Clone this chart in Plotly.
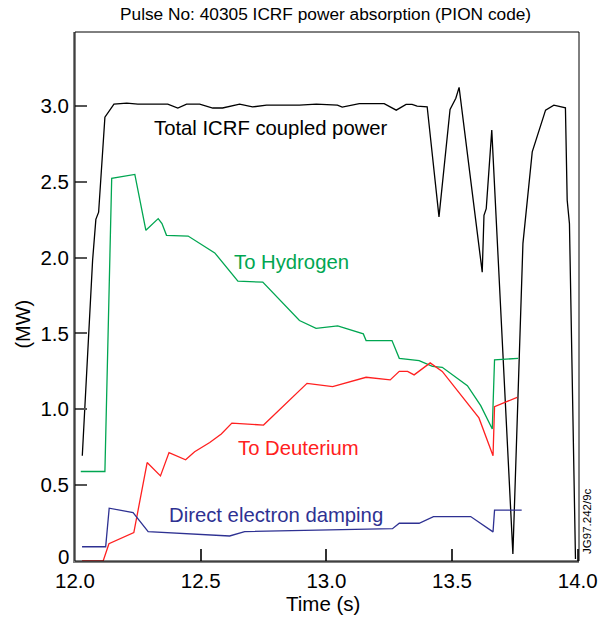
import plotly.graph_objects as go

# Total ICRF coupled power
t_total = [12.029, 12.070, 12.083, 12.094, 12.119, 12.155, 12.206, 12.250, 12.369, 12.409,
           12.444, 12.496, 12.548, 12.587, 12.655, 12.706, 12.762, 12.893, 12.960, 13.044,
           13.063, 13.131, 13.230, 13.278, 13.317, 13.341, 13.361, 13.401, 13.448, 13.492,
           13.515, 13.528, 13.620, 13.627, 13.636, 13.658, 13.742, 13.782, 13.819, 13.872,
           13.905, 13.951, 13.958, 13.967, 13.991]
p_total = [0.694, 1.982, 2.252, 2.299, 2.926, 3.012, 3.018, 3.012, 3.012, 2.986,
           3.012, 3.012, 2.986, 2.986, 3.012, 2.993, 3.005, 3.005, 3.012, 3.005,
           2.992, 3.015, 3.015, 2.972, 3.010, 3.010, 2.999, 2.994, 2.268, 2.977,
           3.050, 3.122, 1.904, 2.279, 2.323, 2.840, 0.046, 2.094, 2.697, 2.972,
           3.005, 2.987, 2.378, 2.224, 0.013]

# To Hydrogen
t_h = [12.023, 12.119, 12.146, 12.238, 12.282, 12.331, 12.346, 12.364, 12.450, 12.556,
       12.648, 12.747, 12.893, 12.959, 13.045, 13.147, 13.158, 13.261, 13.290, 13.369,
       13.422, 13.461, 13.561, 13.614, 13.660, 13.669, 13.763]
p_h = [0.590, 0.590, 2.523, 2.548, 2.180, 2.257, 2.224, 2.147, 2.142, 2.031,
       1.845, 1.838, 1.585, 1.534, 1.550, 1.497, 1.453, 1.453, 1.336, 1.321,
       1.283, 1.277, 1.156, 1.024, 0.870, 1.326, 1.336]

# To Deuterium
t_d = [12.028, 12.112, 12.135, 12.234, 12.287, 12.340, 12.374, 12.440, 12.476, 12.536,
       12.582, 12.624, 12.750, 12.923, 13.025, 13.158, 13.254, 13.290, 13.323, 13.349,
       13.413, 13.461, 13.607, 13.663, 13.669, 13.759]
p_d = [0.0, 0.0, 0.114, 0.187, 0.649, 0.561, 0.715, 0.667, 0.720, 0.781,
       0.837, 0.909, 0.896, 1.171, 1.149, 1.211, 1.194, 1.250, 1.250, 1.227,
       1.306, 1.250, 0.943, 0.694, 1.017, 1.079]

# Direct electron damping
t_e = [12.028, 12.122, 12.136, 12.231, 12.291, 12.615, 12.675, 13.263, 13.290, 13.369,
       13.426, 13.574, 13.663, 13.669, 13.777]
p_e = [0.094, 0.094, 0.348, 0.319, 0.194, 0.165, 0.194, 0.213, 0.249, 0.249,
       0.293, 0.293, 0.192, 0.335, 0.335]

x_ticks = [12.0, 12.5, 13.0, 13.5, 14.0]
x_tick_text = ["12.0", "12.5", "13.0", "13.5", "14.0"]
y_ticks = [0, 0.5, 1.0, 1.5, 2.0, 2.5, 3.0]
y_tick_text = ["", "0.5", "1.0", "1.5", "2.0", "2.5", "3.0"]
y_zero_label = "0"

C_TOTAL = "#000000"
C_H = "#00a651"
C_D = "#ff2020"
C_E = "#2e3192"
FONT = "Liberation Sans, Arial, sans-serif"

fig = go.Figure()
for t, p, c in [(t_total, p_total, C_TOTAL), (t_h, p_h, C_H), (t_d, p_d, C_D), (t_e, p_e, C_E)]:
    fig.add_trace(go.Scatter(x=t, y=p, mode="lines", line=dict(color=c, width=1.3),
                             showlegend=False, hoverinfo="skip"))

labels = [
    ("Total ICRF coupled power", 12.780, 2.853, C_TOTAL),
    ("To Hydrogen", 12.861, 1.968, C_H),
    ("To Deuterium", 12.889, 0.746, C_D),
    ("Direct electron damping", 12.798, 0.304, C_E),
]
for txt, x, y, c in labels:
    fig.add_annotation(x=x, y=y, xref="x", yref="y", text=txt, showarrow=False,
                       xanchor="center", yanchor="middle",
                       font=dict(family=FONT, size=20.3, color=c))

def paper_note(text, x, y, size, angle=0):
    fig.add_annotation(x=x, y=y, xref="paper", yref="paper", text=text,
                       textangle=angle, showarrow=False, xanchor="center", yanchor="middle",
                       font=dict(family=FONT, size=size, color="black"))

paper_note("Pulse No: 40305 ICRF power absorption (PION code)", 0.498, 1.034, 17.3)
paper_note("(MW)", -0.105, 0.447, 20, -90)
paper_note("Time (s)", 0.492, -0.081, 20.5)
paper_note("JG97.242/9c", 1.016, 0.074, 11.5, -90)

# zero label on the y axis, lifted slightly as in the original
fig.add_annotation(x=0, y=0, xref="paper", yref="y", text=y_zero_label, showarrow=False,
                   xanchor="right", yanchor="middle", xshift=-4, yshift=5,
                   font=dict(family=FONT, size=20.5, color="black"))

# frame
fig.add_shape(type="rect", xref="paper", yref="paper", x0=0, y0=0, x1=1, y1=1,
              line=dict(color="black", width=1))

fig.update_layout(
    width=598, height=619,
    margin=dict(l=75, r=19, t=32, b=58, autoexpand=False),
    paper_bgcolor="white", plot_bgcolor="white",
    font=dict(family=FONT, size=20, color="black"),
    xaxis=dict(range=[12, 14.005], tickvals=x_ticks, ticktext=x_tick_text,
               ticks="inside", ticklen=12, tickwidth=1.5, tickcolor="#333333",
               showline=True, linecolor="#808080", linewidth=2, showgrid=False,
               zeroline=False, automargin=False, tickfont=dict(size=20.5)),
    yaxis=dict(range=[0, 3.487], tickvals=y_ticks, ticktext=y_tick_text,
               ticks="inside", ticklen=12, tickwidth=1.5, tickcolor="#555555",
               showline=True, linecolor="#808080", linewidth=2, showgrid=False,
               zeroline=False, automargin=False, tickfont=dict(size=20.5)),
)

fig.write_html("out.html")
